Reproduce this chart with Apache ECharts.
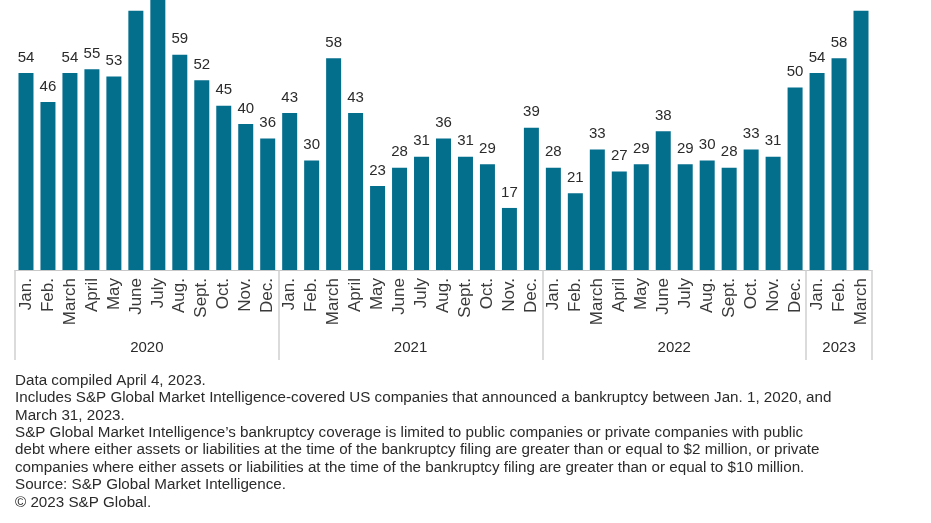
<!DOCTYPE html>
<html>
<head>
<meta charset="utf-8">
<script src="https://cdn.jsdelivr.net/npm/echarts@6/dist/echarts.min.js"></script>
<style>
html,body{margin:0;padding:0;background:#fff;overflow:hidden;}
#chart{width:931px;height:545px;margin-top:-22px;}
</style>
</head>
<body>
<div id="chart"></div>
<script>
// Categories (month tick labels)
const monthLabels = [
  'Jan.','Feb.','March','April','May','June','July','Aug.','Sept.','Oct.','Nov.','Dec.',
  'Jan.','Feb.','March','April','May','June','July','Aug.','Sept.','Oct.','Nov.','Dec.',
  'Jan.','Feb.','March','April','May','June','July','Aug.','Sept.','Oct.','Nov.','Dec.',
  'Jan.','Feb.','March'
];
// Year group labels and number of months in each group
const yearLabels = ['2020','2021','2022','2023'];
const monthsPerYear = [12, 12, 12, 3];
// Monthly bankruptcy counts (June/July 2020 and March 2023 are cut off at top in the original)
const bankruptcies = [
  54, 46, 54, 55, 53, 71, 76, 59, 52, 45, 40, 36,
  43, 30, 58, 43, 23, 28, 31, 36, 31, 29, 17, 39,
  28, 21, 33, 27, 29, 38, 29, 30, 28, 33, 31, 50,
  54, 58, 71
];
const footnote = [
  'Data compiled April 4, 2023.',
  'Includes S&P Global Market Intelligence-covered US companies that announced a bankruptcy between Jan. 1, 2020, and',
  'March 31, 2023.',
  'S&P Global Market Intelligence\u2019s bankruptcy coverage is limited to public companies or private companies with public',
  'debt where either assets or liabilities at the time of the bankruptcy filing are greater than or equal to $2 million, or private',
  'companies where either assets or liabilities at the time of the bankruptcy filing are greater than or equal to $10 million.',
  'Source: S&P Global Market Intelligence.',
  '\u00a9 2023 S&P Global.'
];

// Build the year axis: half-month resolution points (boundaryGap false)
const halfCount = monthLabels.length * 2 + 1;
const yearAxisData = new Array(halfCount).fill('');
const boundaryIdx = [0];
const labelIdx = {};
let acc = 0;
monthsPerYear.forEach((n, i) => {
  const center = acc * 2 + n;       // in half-month units
  yearAxisData[center] = yearLabels[i];
  labelIdx[center] = true;
  acc += n;
  boundaryIdx.push(acc * 2);
});

const FONT = '"Liberation Sans", Arial, sans-serif';
const chart = echarts.init(document.getElementById('chart'), null, {renderer: 'canvas'});
chart.setOption({
  animation: false,
  backgroundColor: '#ffffff',
  title: {
    text: footnote.join('\n'),
    left: 15,
    top: 394,
    padding: 0,
    textStyle: {
      fontFamily: FONT,
      fontSize: 15.2,
      fontWeight: 'normal',
      color: '#2b2b2b',
      lineHeight: 17.4
    }
  },
  grid: {left: 15, right: 59, top: 0, bottom: 253, containLabel: false},
  xAxis: [
    {
      type: 'category',
      data: monthLabels,
      position: 'bottom',
      axisLine: {show: true, lineStyle: {color: '#c8c8c8', width: 1}},
      axisTick: {show: false},
      axisLabel: {
        interval: 0,
        rotate: 90,
        margin: 8,
        fontFamily: FONT,
        fontSize: 17,
        color: '#3a3a3a'
      }
    },
    {
      type: 'category',
      data: yearAxisData,
      boundaryGap: false,
      position: 'bottom',
      axisLine: {show: false},
      axisTick: {
        show: true,
        length: 90,
        interval: (idx) => boundaryIdx.indexOf(idx) >= 0,
        lineStyle: {color: '#cfcfcf', width: 1.5}
      },
      axisLabel: {
        show: true,
        interval: (idx) => !!labelIdx[idx],
        margin: 70,
        fontFamily: FONT,
        fontSize: 15,
        color: '#2b2b2b'
      }
    }
  ],
  yAxis: {
    type: 'value',
    min: 0,
    max: 80,
    show: false,
    splitLine: {show: false}
  },
  series: [{
    type: 'bar',
    data: bankruptcies,
    xAxisIndex: 0,
    barWidth: 15,
    itemStyle: {color: '#046e8d'},
    label: {
      show: true,
      position: 'top',
      distance: 8,
      fontFamily: FONT,
      fontSize: 15,
      color: '#2b2b2b'
    }
  }]
});
</script>
</body>
</html>
